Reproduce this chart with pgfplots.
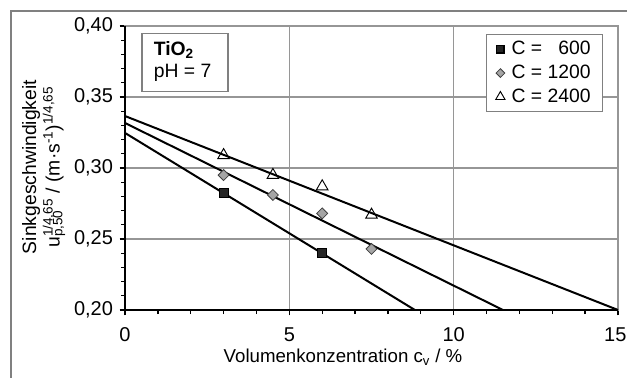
\documentclass[border=0pt]{standalone}
\usepackage{pgfplots}
\pgfplotsset{compat=1.18}
\usepackage{fontspec}
\setmainfont{Liberation Sans}
\definecolor{framegray}{RGB}{128,128,128}
\definecolor{gridgray}{RGB}{150,150,150}
\definecolor{diafill}{RGB}{165,165,165}
\begin{document}
\fontsize{14.5}{17}\selectfont
\begin{tikzpicture}[x=0.75pt,y=0.75pt]
\useasboundingbox (0,0) rectangle (627,378);
\draw[line width=2.2pt, color=framegray] (10,367) -- (627,367);
\draw[line width=2.2pt, color=framegray] (11,367.8) -- (11,0);
\begin{axis}[
  at={(93.75pt,51pt)}, anchor=south west,
  scale only axis, width=369.75pt, height=213pt,
  xmin=0, xmax=15, ymin=0.2, ymax=0.4,
  xtick={0,5,10,15}, xticklabels={0,5,10,{\hspace*{-4pt}15}},
  ytick={0.2,0.25,0.3,0.35,0.4},
  minor x tick num=4, minor y tick num=4,
  grid=major, major grid style={gridgray, line width=0.8pt},
  axis line style={gridgray, line width=1pt},
  tick align=outside, xtick pos=bottom, ytick pos=left,
  tick style={black, line width=1pt},
  major tick length=4pt, minor tick length=3pt,
  /pgf/number format/assume math mode=true,
  yticklabel style={/pgf/number format/.cd, fixed, fixed zerofill, precision=2, use comma},
  xticklabel style={yshift=-4pt},
  ticklabel style={font=\fontsize{15}{17}\selectfont},
  clip=false,
  legend style={at={(0.970,0.972)}, anchor=north east, draw=framegray, line width=0.8pt,
    font=\fontsize{14.5}{17}\selectfont, row sep=1.5pt, inner xsep=7pt, inner ysep=3pt},
  legend cell align=left,
  legend image post style={scale=0.8},
]
\addplot[black, line width=1.5pt, forget plot] coordinates {(0,0.3247) (8.82,0.20)};
\addplot[black, line width=1.5pt, forget plot] coordinates {(0,0.3317) (11.5,0.20)};
\addplot[black, line width=1.5pt, forget plot] coordinates {(0,0.3366) (15,0.20)};
\addplot[only marks, mark=square*, mark size=3.4pt, mark options={fill=black!85, draw=black}]
  coordinates {(3,0.2824) (6,0.240)};
\addlegendentry{\hspace{3pt}C = \phantom{0}600}
\addplot[only marks, mark=square*, mark size=2.9pt, mark options={rotate=45, fill=diafill, draw=black!75, line width=0.6pt}]
  coordinates {(3,0.295) (4.5,0.281) (6,0.268) (7.5,0.243)};
\addlegendentry{\hspace{3pt}C = 1200}
\addplot[only marks, mark=triangle, mark size=5pt, mark options={draw=black, fill=white, line width=0.7pt}]
  coordinates {(3,0.309) (4.5,0.295) (6,0.287) (7.5,0.267)};
\addlegendentry{\hspace{3pt}C = 2400}
\draw[black, line width=1.6pt] (rel axis cs:0,1) -- (rel axis cs:0,0) -- (rel axis cs:1,0);
\draw[framegray, line width=0.8pt, fill=white] (rel axis cs:0.0345,0.975) rectangle (rel axis cs:0.2089,0.768);
\node[anchor=west, inner sep=0pt, font=\fontsize{14.5}{17}\selectfont\bfseries] at (rel axis cs:0.058,0.915) {TiO\textsubscript{2}};
\node[anchor=west, inner sep=0pt, font=\fontsize{14.5}{17}\selectfont] at (rel axis cs:0.058,0.835) {pH = 7};
\end{axis}
\node[rotate=90] at (31,211) {Sinkgeschwindigkeit};
\node[rotate=90] at (54,211) {u\rlap{\textsubscript{p,50}}\textsuperscript{1/4,65} / (m·s\textsuperscript{-1})\textsuperscript{1/4,65}};
\node[font=\fontsize{14}{16}\selectfont] at (343,21) {Volumenkonzentration c\textsubscript{v} / \%};
\end{tikzpicture}
\end{document}
